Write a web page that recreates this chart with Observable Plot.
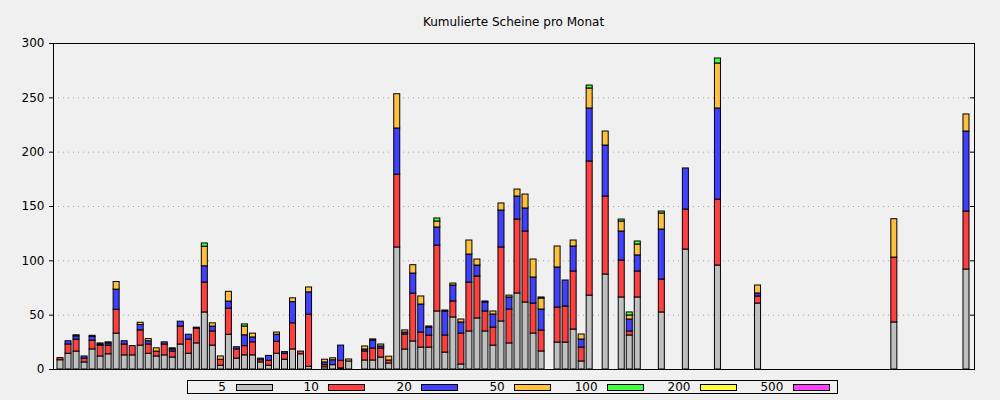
<!DOCTYPE html>
<html><head><meta charset="utf-8">
<script src="https://cdn.jsdelivr.net/npm/d3@7"></script>
<script src="https://cdn.jsdelivr.net/npm/@observablehq/plot@0.6"></script>
<style>
html,body{margin:0;padding:0;background:#f0f0f0;}
body{width:1000px;height:400px;overflow:hidden;position:relative;font-family:"DejaVu Sans",sans-serif;font-size:12px;color:#000;}
#title{height:36px;position:relative;}
#title span{position:absolute;left:513.5px;top:15px;transform:translateX(-50%);white-space:nowrap;}
#chart svg{display:block;}
#legend{position:absolute;left:187px;top:380px;width:649px;height:12px;border:1px solid #000;box-sizing:content-box;}
#legend .lab{position:absolute;top:-1px;width:40px;text-align:right;line-height:14px;}
#legend .sw{position:absolute;top:3px;width:35px;height:5px;border:1px solid #000;}
</style>
</head><body>
<div id="title"><span>Kumulierte Scheine pro Monat</span></div>
<div id="chart"></div>
<div id="legend"></div>
<script>
const categories = ["5", "10", "20", "50", "100", "200", "500"];
const colors = ["#c0c0c0", "#ff4040", "#4040ff", "#ffc040", "#40ff40", "#ffff40", "#ff40ff"];
const yTicks = [0, 50, 100, 150, 200, 250, 300];
const slotCount = 114;
const slots = [0,1,2,3,4,5,6,7,8,9,10,11,12,13,14,15,16,17,18,19,20,21,22,23,24,25,26,27,28,29,30,31,
  33,34,35,36,38,39,40,41,42,43,44,45,46,47,48,49,50,51,52,53,54,55,56,57,58,59,60,
  62,63,64,65,66,68,70,71,72,75,78,82,87,104,113];
const s5 = [8.5,14.5,16.5,6.5,18.5,12,14,33,13,13,22,14.5,12,13,11,23,14.5,24,52.5,22,3.5,32,10,13,13,6.5,3.5,14.5,9,18.5,14,2.5,
  2,4,1,7.4,8.3,8.3,11,5.5,112.3,18.4,25.8,20.2,20.2,53.4,15.6,47.9,4.6,35,47,35,22,44.2,24,70,61.7,33.1,16.6,
  24.8,24.8,36.8,7.4,68,87.4,66.3,31.3,66.3,52.5,110.4,95.7,60.7,43.3,92];
const s10 = [2,8.5,11,3.5,8,10,8,22,10,8.5,14,8.5,4.5,10,5.5,16.5,13,13.5,27.5,13,5.5,24,8.5,8.5,12,2,4.5,11,5.5,24,2.5,48,
  2,0,7,0,8.3,11,8.3,2.8,67,13.8,44,13.8,11,60.6,15.7,14.7,28.5,45,38.6,18.4,16.6,68.1,31.2,68,65.3,27.6,19.3,
  32.2,33.2,53.4,12.8,123.4,71.8,34,3.7,23.9,30.3,36.8,60.7,6.5,59.7,53.4];
const s20 = [0,3,3,2,3.5,1,2,18.5,3,0,5,3,0,2,2,4.5,4.5,1,15,4.5,0,6.5,2,10,4.5,1.5,4.5,6.5,1.5,19.5,0,20.5,
  2.5,4.5,14,0,1.8,7.4,1.9,0,42.5,1.8,18.5,25.8,7.4,16.7,22,14.7,10.2,25.8,10.1,8.3,12,34,11.1,21.2,21.2,24,19.3,
  36.9,23.9,23,7.4,48.8,46.9,26.7,11,14.8,46,37.8,83.8,2.8,0,73.6];
const s50 = [0,0,1,0,1,1,1,7,0,0,2,2,3,0,1,0,0,0,18,3,3,9,0,8,3.5,0,0,2,0,3.5,0,4.5,
  2.5,1.8,0,1.8,2.8,1,1.8,3.5,31.5,2,7.7,7.4,1,5.5,1,1.8,2.7,12.9,5.5,0.9,2.8,6.5,1.7,6.4,12.8,16.5,10.1,
  19.3,0,5.5,4.6,18.4,12.9,9.2,3.7,10,14.8,0,41.4,7.3,35.3,15.7];
const s100 = [0,0,0,0,0,0,0,0,0,0,0,0,0,0,0,0,0,0,3,0,0,0,0,2,0,0,0,0,0,0,0,0,
  0,0,0,0,0,0,0,0,0,0,0,0,0,2.8,0,0,0,0,0,0,0,0,0,0,0,0,1,
  0,0,0,0,2.7,0,1.8,2.8,2.8,1.8,0,4.6,0,0,0];
const series = [s5, s10, s20, s50, s100];

const rows = [];
slots.forEach((slot, i) => {
  series.forEach((arr, k) => {
    if (arr[i] > 0) rows.push({slot, cat: categories[k], value: arr[i]});
  });
});

const chart = Plot.plot({
  width: 1000,
  height: 340,
  marginTop: 7,
  marginBottom: 7,
  marginLeft: 53,
  marginRight: 26,
  style: {background: "transparent", fontFamily: "DejaVu Sans, sans-serif", fontSize: "12px", color: "#000", overflow: "visible"},
  x: {type: "band", domain: d3.range(slotCount), range: [56, 970], paddingInner: 0.25, paddingOuter: 0.125, align: 0.5, round: false, axis: null},
  y: {domain: [0, 300], label: null, axis: null},
  color: {domain: categories, range: colors},
  marks: [
    Plot.gridY(yTicks.slice(1, -1), {stroke: "#a8a8a8", strokeOpacity: 1, strokeDasharray: "1,4"}),
    Plot.barY(rows, {x: "slot", y: "value", fill: "cat", stroke: "#000", strokeWidth: 1, order: null}),
    Plot.axisY({anchor: "left", ticks: yTicks, tickSize: 4, tickPadding: 5, label: null, fontSize: 12}),
    Plot.axisY({anchor: "right", ticks: yTicks, tickSize: -5, tickFormat: () => "", label: null}),
    Plot.frame({stroke: "#000", strokeWidth: 1})
  ]
});
document.getElementById("chart").appendChild(chart);

const legend = document.getElementById("legend");
categories.forEach((c, i) => {
  const lab = document.createElement("div");
  lab.className = "lab";
  lab.textContent = c;
  lab.style.left = (226 + 92.9 * i - 188 - 40) + "px";
  legend.appendChild(lab);
  const sw = document.createElement("div");
  sw.className = "sw";
  sw.style.left = (235.5 + 92.9 * i - 188) + "px";
  sw.style.background = colors[i];
  legend.appendChild(sw);
});
</script>
</body></html>
